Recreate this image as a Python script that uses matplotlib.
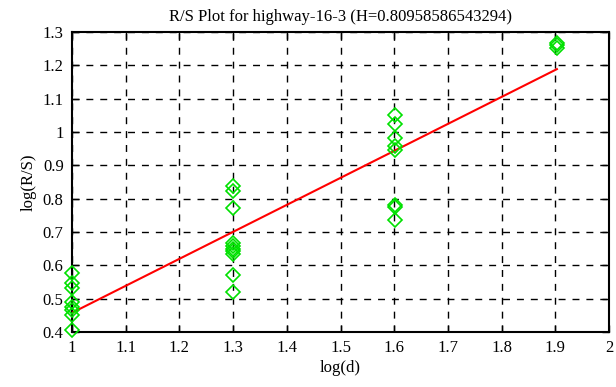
import numpy as np
import matplotlib
matplotlib.use('Agg')
import matplotlib.pyplot as plt

# log(d) / log(R/S) points
log_d = [1.0] * 8 + [1.30] * 10 + [1.602] * 8 + [1.903] * 3
log_rs = [0.578, 0.546, 0.531, 0.491, 0.476, 0.466, 0.451, 0.406,
          0.837, 0.822, 0.772, 0.667, 0.657, 0.650, 0.642, 0.634, 0.572, 0.519,
          1.050, 1.025, 0.983, 0.958, 0.945, 0.780, 0.775, 0.736,
          1.268, 1.262, 1.252]

H = 0.80958586543294
intercept = -0.352

xticks = [1, 1.1, 1.2, 1.3, 1.4, 1.5, 1.6, 1.7, 1.8, 1.9, 2]
yticks = [0.4, 0.5, 0.6, 0.7, 0.8, 0.9, 1, 1.1, 1.2, 1.3]

plt.rcParams['font.family'] = ['Liberation Serif', 'DejaVu Serif']
plt.rcParams['font.size'] = 12

fig = plt.figure(figsize=(6.16, 3.87), dpi=100)
ax = fig.add_axes([72 / 616, 1 - 332 / 387, 537 / 616, 300 / 387])

fit_x = np.array([min(log_d), max(log_d)])
ax.plot(fit_x, H * fit_x + intercept, color='#ff0000', linewidth=1.5, zorder=3)

ax.plot(log_d, log_rs, linestyle='none', marker='D', markersize=7,
        markerfacecolor='none', markeredgecolor='#00e000', markeredgewidth=1.2,
        clip_on=False, zorder=4)

ax.set_xlim(1, 2)
ax.set_ylim(0.4, 1.3)
ax.set_xticks(xticks)
ax.set_xticklabels([f'{t:g}' for t in xticks])
ax.set_yticks(yticks)
ax.set_yticklabels([f'{t:g}' for t in yticks])
ax.grid(True, color='black', linestyle=(0, (5, 5)), linewidth=1)
ax.tick_params(direction='in', top=True, right=True, length=5, width=1, pad=6)
for s in ax.spines.values():
    s.set_linewidth(1.5)

ax.set_title('R/S Plot for highway-16-3 (H=0.80958586543294)', fontsize=12, pad=8)
ax.set_xlabel('log(d)', fontsize=12, labelpad=3)
ax.set_ylabel('log(R/S)', fontsize=12)

fig.savefig('out.png', dpi=100)
